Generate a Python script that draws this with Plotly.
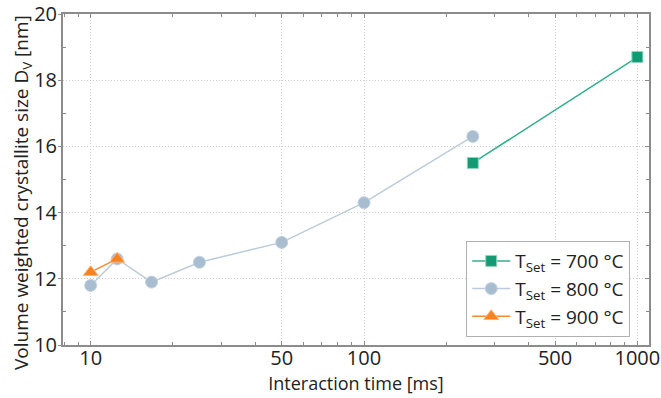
import plotly.graph_objects as go
import math

# Data
t700_x = [250, 1000]
t700_y = [15.5, 18.7]
t800_x = [10, 12.5, 16.7, 25, 50, 100, 250]
t800_y = [11.8, 12.6, 11.9, 12.5, 13.1, 14.3, 16.3]
t900_x = [10, 12.5]
t900_y = [12.2, 12.6]

x_major = [10, 50, 100, 500, 1000]
x_major_labels = ["10", "50", "100", "500", "1000"]
x_minor = [8, 9, 20, 30, 40, 60, 70, 80, 90, 200, 300, 400, 600, 700, 800, 900]
y_major = [10, 12, 14, 16, 18, 20]
y_minor = [11, 13, 15, 17, 19]

FONT = "Open Sans"
axis_col = "#8c8c8c"
grid_col = "#cfcfcf"

fig = go.Figure()
fig.add_trace(go.Scatter(
    x=t700_x, y=t700_y, mode="lines+markers", name="T<sub>Set</sub> = 700 °C",
    line=dict(color="#33b08c", width=1.5),
    marker=dict(symbol="square", size=11, color="#119a74", line=dict(color="#8fd5bd", width=1)),
))
fig.add_trace(go.Scatter(
    x=t800_x, y=t800_y, mode="lines+markers", name="T<sub>Set</sub> = 800 °C",
    line=dict(color="#bccbd9", width=1.5),
    marker=dict(symbol="circle", size=12, color="#a8bdd0", line=dict(color="#c3d2df", width=1)),
))
fig.add_trace(go.Scatter(
    x=t900_x, y=t900_y, mode="lines+markers", name="T<sub>Set</sub> = 900 °C",
    line=dict(color="#f68a2f", width=1.5),
    marker=dict(symbol="triangle-up", size=13, color="#f7831f", line=dict(color="#fbb37a", width=1)),
))

xr = [math.log10(7.92), math.log10(1103)]
fig.update_layout(
    width=661, height=398,
    margin=dict(l=63, r=12, t=14, b=53),
    paper_bgcolor="white", plot_bgcolor="white",
    font=dict(family=FONT, size=18, color="#222"),
    showlegend=True,
    legend=dict(x=0.968, y=0.024, xanchor="right", yanchor="bottom",
                bordercolor="#b0b0b0", borderwidth=1, bgcolor="white",
                font=dict(family=FONT, size=19, color="#222"), tracegroupgap=0, itemwidth=38),
    xaxis=dict(type="log", range=xr, tickvals=x_major, ticktext=x_major_labels,
               tickfont=dict(family=FONT, size=20, color="#222"), automargin=False,
               ticklabelstandoff=-6,
               showline=True, linecolor=axis_col, linewidth=2, mirror="ticks",
               ticks="inside", ticklen=4, tickcolor=axis_col,
               showgrid=True, gridcolor=grid_col, griddash="1px,2px", gridwidth=1,
               minor=dict(tickvals=x_minor, ticks="inside", ticklen=3, tickcolor=axis_col, showgrid=False),
               title=dict(text="Interaction time [ms]", font=dict(family=FONT, size=18, color="#222"), standoff=4),
               zeroline=False),
    yaxis=dict(range=[10, 20], tickvals=y_major,
               tickfont=dict(family=FONT, size=20, color="#222"), automargin=False,
               ticklabelstandoff=-3,
               showline=True, linecolor=axis_col, linewidth=2, mirror=True,
               ticks="outside", ticklen=3, tickcolor=axis_col,
               showgrid=True, gridcolor=grid_col, griddash="1px,2px", gridwidth=1,
               minor=dict(tickvals=y_minor, ticks="inside", ticklen=3, tickcolor=axis_col),
               zeroline=False),
    yaxis2=dict(range=[10, 20], overlaying="y", side="right", anchor="x",
                tickvals=y_major, showticklabels=False, showline=False, automargin=False,
                ticks="inside", ticklen=4, tickcolor=axis_col, showgrid=False,
                minor=dict(tickvals=y_minor, ticks="inside", ticklen=3, tickcolor=axis_col),
                zeroline=False),
    annotations=[dict(text="Volume weighted crystallite size D<sub>V</sub> [nm]",
                      xref="paper", yref="paper", x=-(63 - 22) / 586, y=(345 - 193) / 331,
                      xanchor="center", yanchor="middle", textangle=-90, showarrow=False,
                      font=dict(family=FONT, size=19, color="#222"))],
)
fig.add_trace(go.Scatter(x=[t700_x[0]], y=[t700_y[0]], yaxis="y2", mode="markers",
                         marker=dict(opacity=0), showlegend=False, hoverinfo="skip"))

fig.write_html("out.html", config={"displayModeBar": False},
               post_script="document.body.style.margin='0';document.body.style.padding='0';")
